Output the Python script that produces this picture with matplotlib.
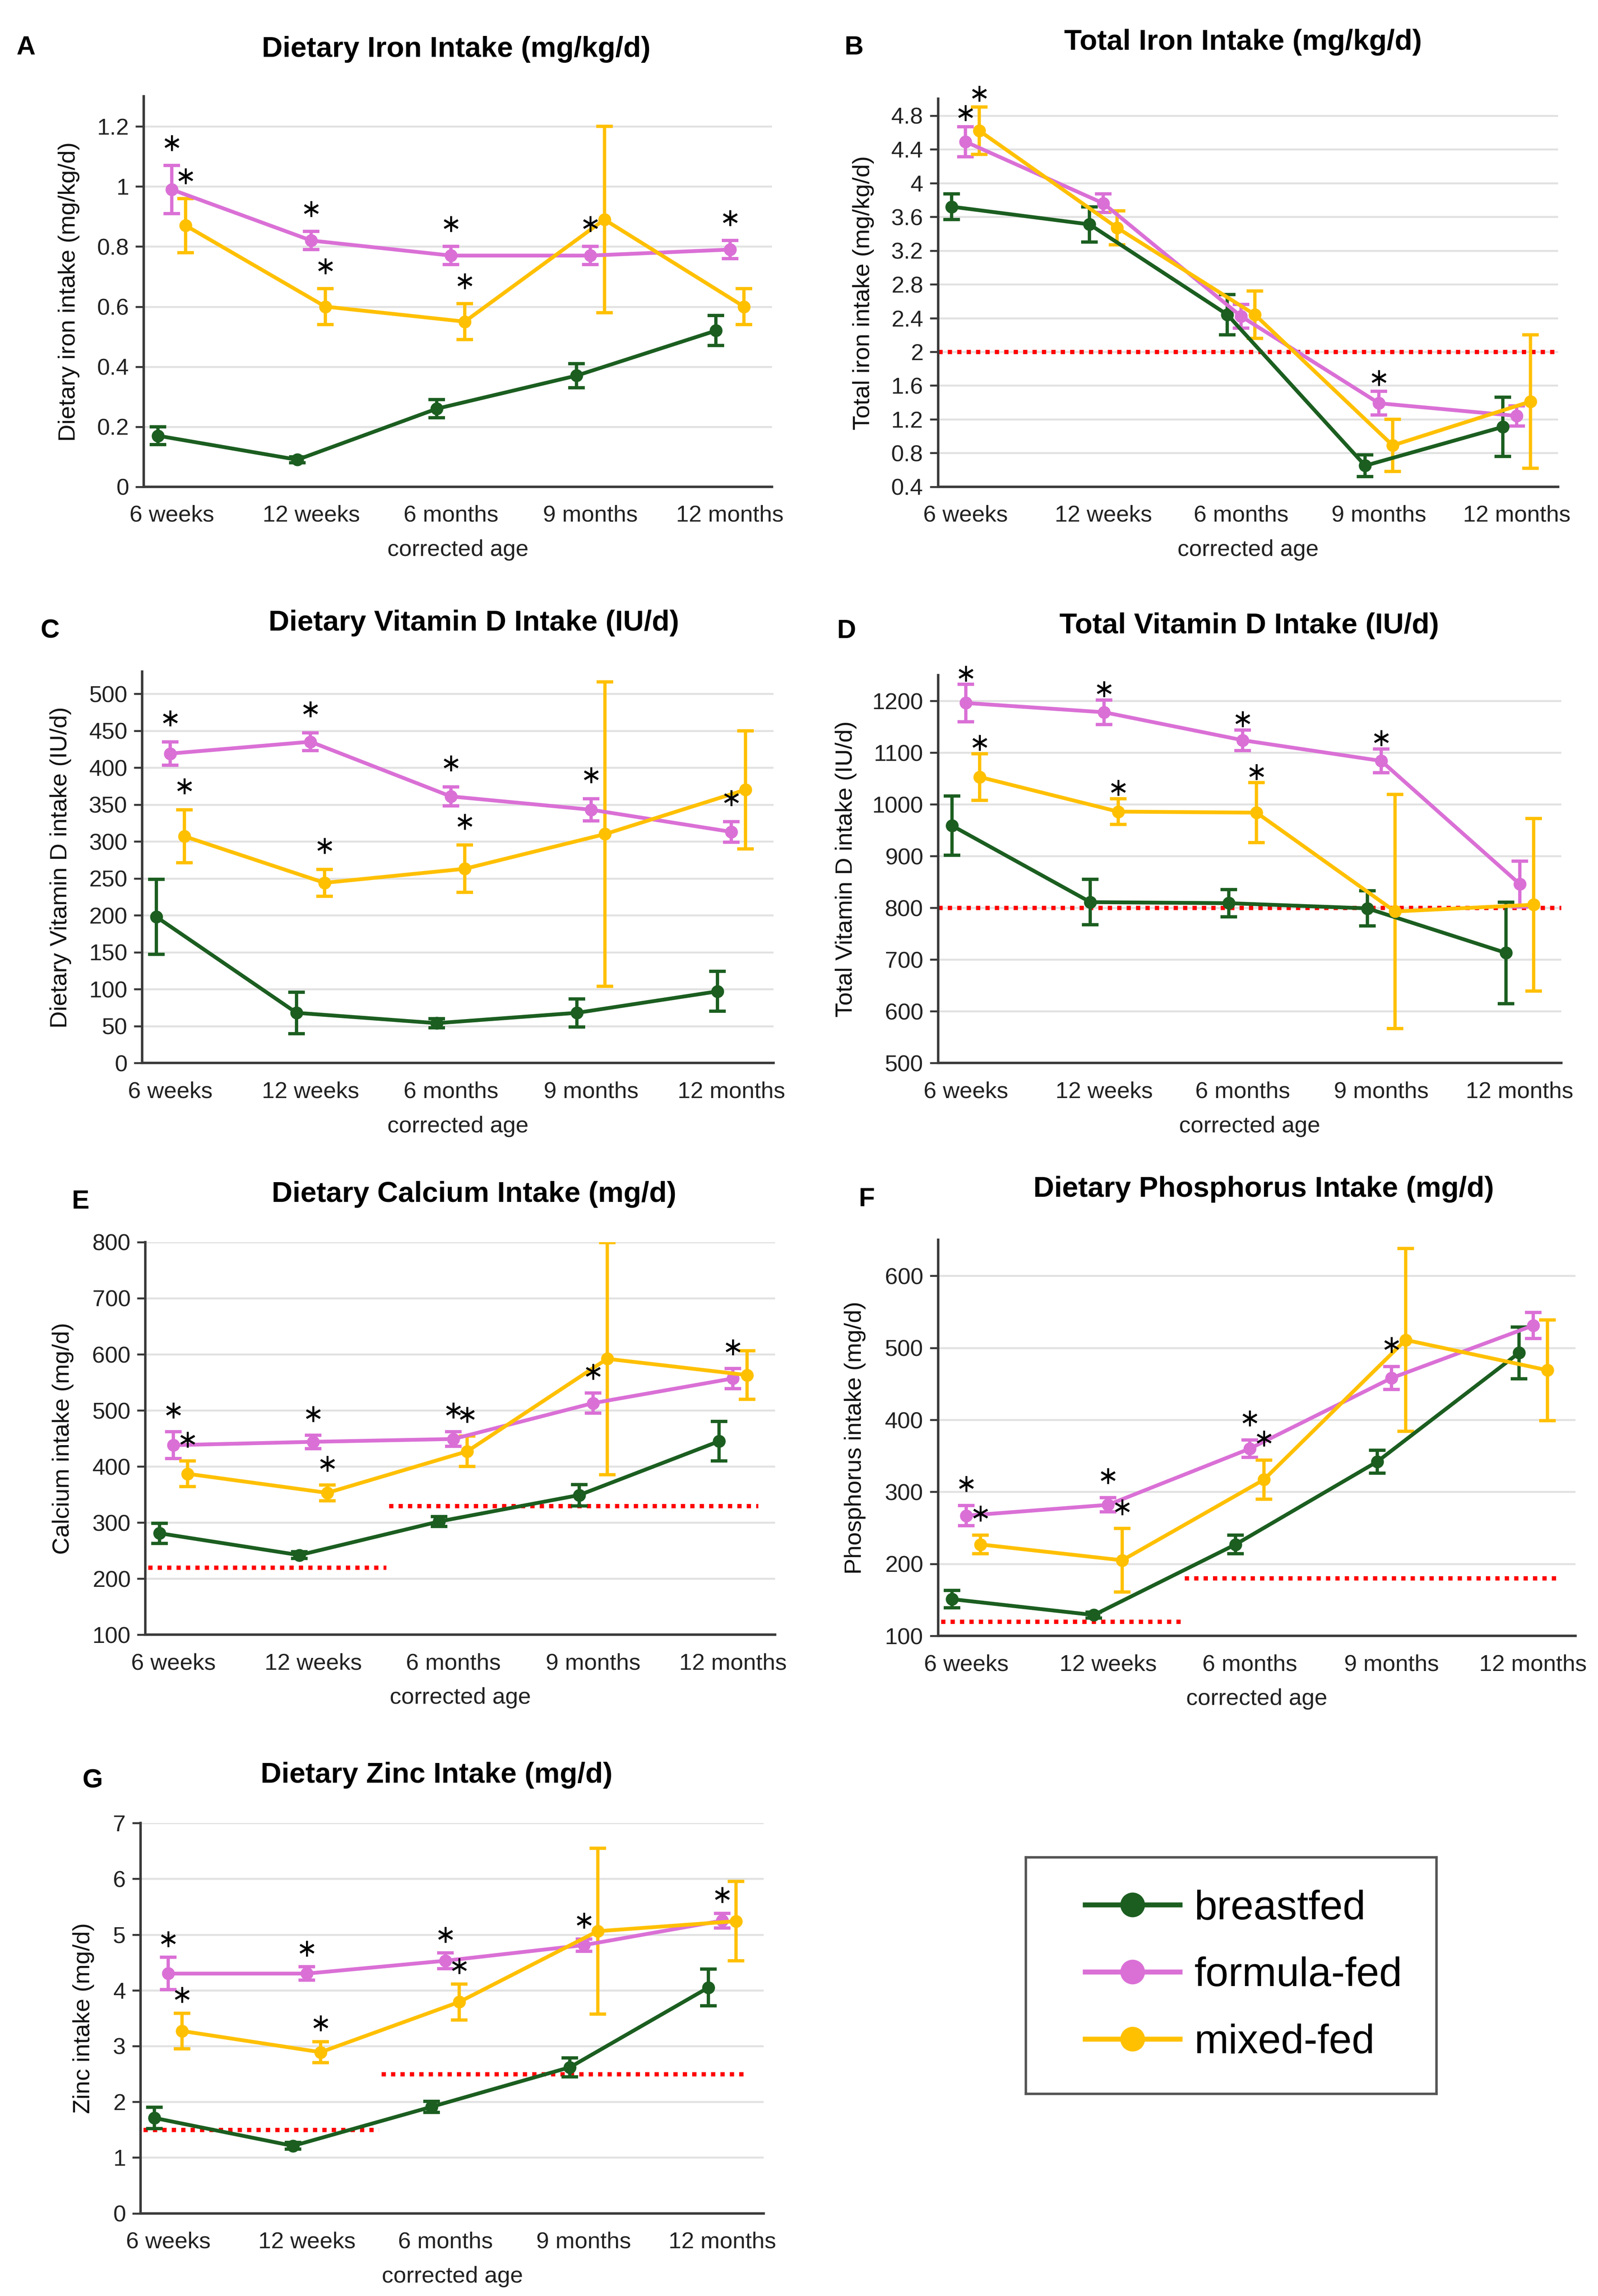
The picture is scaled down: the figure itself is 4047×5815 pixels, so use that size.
import matplotlib
matplotlib.use('Agg')
import matplotlib.pyplot as plt
from matplotlib.lines import Line2D
import numpy as np

plt.rcParams['font.family'] = ['Liberation Sans', 'DejaVu Sans']

# ---------------- data ----------------
ages = ['6 weeks', '12 weeks', '6 months', '9 months', '12 months']
groups = ['breastfed', 'formula-fed', 'mixed-fed']

# A: dietary iron (mg/kg/d)
A_bf = [0.17, 0.09, 0.26, 0.37, 0.52]
A_bf_err = [0.03, 0.01, 0.03, 0.04, 0.05]
A_ff = [0.99, 0.82, 0.77, 0.77, 0.79]
A_ff_err = [0.08, 0.03, 0.03, 0.03, 0.03]
A_mf = [0.87, 0.60, 0.55, 0.89, 0.60]
A_mf_err = [0.09, 0.06, 0.06, 0.31, 0.06]
A_ff_sig = [1, 1, 1, 1, 1]
A_mf_sig = [1, 1, 1, 0, 0]

# B: total iron (mg/kg/d)
B_bf = [3.72, 3.51, 2.44, 0.65, 1.11]
B_bf_err = [0.15, 0.21, 0.24, 0.13, 0.35]
B_ff = [4.49, 3.76, 2.42, 1.39, 1.24]
B_ff_err = [0.18, 0.11, 0.14, 0.14, 0.12]
B_mf = [4.62, 3.47, 2.44, 0.89, 1.41]
B_mf_err = [0.28, 0.20, 0.28, 0.31, 0.79]
B_ff_sig = [1, 0, 0, 1, 0]
B_mf_sig = [1, 0, 0, 0, 0]
B_ref = [2.0]

# C: dietary vitamin D (IU/d)
C_bf = [198, 68, 54, 68, 97]
C_bf_err = [51, 28, 6, 19, 27]
C_ff = [419, 435, 361, 343, 313]
C_ff_err = [16, 12, 13, 15, 14]
C_mf = [307, 244, 263, 310, 370]
C_mf_err = [36, 18, 32, 206, 80]
C_ff_sig = [1, 1, 1, 1, 1]
C_mf_sig = [1, 1, 1, 0, 0]

# D: total vitamin D (IU/d)
D_bf = [959, 811, 809, 799, 713]
D_bf_err = [57, 44, 26, 34, 98]
D_ff = [1196, 1178, 1124, 1084, 846]
D_ff_err = [36, 24, 20, 23, 44]
D_mf = [1053, 986, 984, 793, 806]
D_mf_err = [45, 25, 58, 226, 167]
D_ff_sig = [1, 1, 1, 1, 0]
D_mf_sig = [1, 1, 1, 0, 0]
D_ref = [800]

# E: dietary calcium (mg/d)
E_bf = [281, 242, 302, 349, 445]
E_bf_err = [18, 6, 9, 19, 35]
E_ff = [438, 444, 449, 513, 557]
E_ff_err = [24, 12, 13, 18, 18]
E_mf = [387, 353, 427, 592, 563]
E_mf_err = [23, 14, 27, 207, 43]
E_ff_sig = [1, 1, 1, 1, 1]
E_mf_sig = [1, 1, 1, 0, 0]
E_ref = [220, 330]

# F: dietary phosphorus (mg/d)
F_bf = [151, 129, 227, 342, 493]
F_bf_err = [12, 4, 13, 16, 36]
F_ff = [267, 282, 360, 458, 531]
F_ff_err = [14, 10, 12, 16, 18]
F_mf = [227, 205, 317, 511, 469]
F_mf_err = [13, 44, 27, 127, 70]
F_ff_sig = [1, 1, 1, 1, 0]
F_mf_sig = [1, 1, 1, 0, 0]
F_ref = [120, 180]

# G: dietary zinc (mg/d)
G_bf = [1.71, 1.21, 1.91, 2.62, 4.05]
G_bf_err = [0.19, 0.06, 0.10, 0.17, 0.33]
G_ff = [4.30, 4.30, 4.53, 4.81, 5.25]
G_ff_err = [0.29, 0.12, 0.14, 0.11, 0.13]
G_mf = [3.27, 2.89, 3.79, 5.06, 5.24]
G_mf_err = [0.32, 0.19, 0.32, 1.49, 0.71]
G_ff_sig = [1, 1, 1, 1, 1]
G_mf_sig = [1, 1, 1, 0, 0]
G_ref = [1.5, 2.5]

# ---------------- styling / layout ----------------
colors = ['#1b5e20', '#da70d6', '#ffc000']
offsets = [-0.1, 0.0, 0.1]

W, H = 4047, 5815
fig = plt.figure(figsize=(W / 300, H / 300), dpi=300)

panels = [
    dict(letter='A', title='Dietary Iron Intake (mg/kg/d)', ylabel='Dietary iron intake (mg/kg/d)',
         data=[(A_bf, A_bf_err), (A_ff, A_ff_err), (A_mf, A_mf_err)], sig=(A_ff_sig, A_mf_sig),
         rect=[0.090, 0.788, 0.393, 0.170], ylim=(0, 1.3), yticks=np.arange(0, 1.21, 0.2),
         star_off=0.075, ref=None, ref_full=False, ylab_x=-0.102,
         title_xy=(1155, 125), letter_xy=(65, 121)),
    dict(letter='B', title='Total Iron Intake (mg/kg/d)', ylabel='Total iron intake (mg/kg/d)',
         data=[(B_bf, B_bf_err), (B_ff, B_ff_err), (B_mf, B_mf_err)], sig=(B_ff_sig, B_mf_sig),
         rect=[0.587, 0.788, 0.388, 0.169], ylim=(0.4, 5.0), yticks=np.arange(0.4, 4.81, 0.4),
         star_off=0.16, ref=B_ref, ref_full=True, ylab_x=-0.103,
         title_xy=(3148, 107), letter_xy=(2163, 121)),
    dict(letter='C', title='Dietary Vitamin D Intake (IU/d)', ylabel='Dietary Vitamin D intake (IU/d)',
         data=[(C_bf, C_bf_err), (C_ff, C_ff_err), (C_mf, C_mf_err)], sig=(C_ff_sig, C_mf_sig),
         rect=[0.089, 0.537, 0.395, 0.1705], ylim=(0, 530), yticks=np.arange(0, 501, 50),
         star_off=32, ref=None, ref_full=False, ylab_x=-0.112,
         title_xy=(1200, 1578), letter_xy=(126, 1599)),
    dict(letter='D', title='Total Vitamin D Intake (IU/d)', ylabel='Total Vitamin D intake (IU/d)',
         data=[(D_bf, D_bf_err), (D_ff, D_ff_err), (D_mf, D_mf_err)], sig=(D_ff_sig, D_mf_sig),
         rect=[0.587, 0.537, 0.390, 0.169], ylim=(500, 1250), yticks=np.arange(500, 1201, 100),
         star_off=21, ref=D_ref, ref_full=True, ylab_x=-0.130,
         title_xy=(3164, 1585), letter_xy=(2144, 1599)),
    dict(letter='E', title='Dietary Calcium Intake (mg/d)', ylabel='Calcium intake (mg/d)',
         data=[(E_bf, E_bf_err), (E_ff, E_ff_err), (E_mf, E_mf_err)], sig=(E_ff_sig, E_mf_sig),
         rect=[0.091, 0.288, 0.394, 0.171], ylim=(100, 800), yticks=np.arange(100, 801, 100),
         star_off=38, ref=E_ref, ref_full=False, ylab_x=-0.114,
         title_xy=(1200, 3025), letter_xy=(204, 3044)),
    dict(letter='F', title='Dietary Phosphorus Intake (mg/d)', ylabel='Phosphorus intake (mg/d)',
         data=[(F_bf, F_bf_err), (F_ff, F_ff_err), (F_mf, F_mf_err)], sig=(F_ff_sig, F_mf_sig),
         rect=[0.587, 0.2875, 0.399, 0.1725], ylim=(100, 650), yticks=np.arange(100, 601, 100),
         star_off=30, ref=F_ref, ref_full=False, ylab_x=-0.113,
         title_xy=(3200, 3012), letter_xy=(2195, 3038)),
    dict(letter='G', title='Dietary Zinc Intake (mg/d)', ylabel='Zinc intake (mg/d)',
         data=[(G_bf, G_bf_err), (G_ff, G_ff_err), (G_mf, G_mf_err)], sig=(G_ff_sig, G_mf_sig),
         rect=[0.088, 0.036, 0.390, 0.170], ylim=(0, 7), yticks=np.arange(0, 7.01, 1),
         star_off=0.33, ref=G_ref, ref_full=False, ylab_x=-0.074,
         title_xy=(1106, 4496), letter_xy=(234, 4511)),
]

x = np.arange(len(ages))
ref_spans = [(-0.18, 1.52), (1.54, 4.18)]

for p in panels:
    ax = fig.add_axes(p['rect'])
    ax.set_xlim(-0.2, 4.3)
    ax.set_ylim(*p['ylim'])
    ax.set_yticks(p['yticks'])
    ax.set_yticklabels([f'{v:g}' for v in np.round(p['yticks'], 2)])
    ax.set_xticks(x)
    ax.set_xticklabels(ages)

    ax.yaxis.grid(True, color='#e2e2e2', lw=1.2)
    ax.set_axisbelow(True)
    for s in ['top', 'right']:
        ax.spines[s].set_visible(False)
    for s in ['left', 'bottom']:
        ax.spines[s].set_color('#3a3a3a')
        ax.spines[s].set_linewidth(1.5)
    ax.tick_params(axis='x', length=0, pad=11, labelsize=14, labelcolor='#222222')
    ax.tick_params(axis='y', length=5, width=1.2, color='#3a3a3a', pad=4,
                   labelsize=14, labelcolor='#222222')

    # reference lines (red dotted)
    if p['ref'] is not None:
        if p['ref_full']:
            for r in p['ref']:
                ax.axhline(r, color='#ff0000', ls=(0, (1, 1.2)), lw=2.6, zorder=1.5)
        else:
            for r, (x0, x1) in zip(p['ref'], ref_spans):
                ax.hlines(r, x0, x1, colors='#ff0000', linestyles=[(0, (1, 1.2))], lw=2.6, zorder=1.5)

    for (vals, errs), c, dx in zip(p['data'], colors, offsets):
        ax.errorbar(x + dx, vals, yerr=errs, color=c, marker='o', ms=6.8, lw=2.3,
                    elinewidth=2, capsize=5, capthick=2, zorder=3)

    # significance asterisks
    for (vals, errs), sig, dx in zip(p['data'][1:], p['sig'], offsets[1:]):
        sig = np.array(sig, dtype=bool)
        ys = np.array(vals) + np.array(errs) + p['star_off']
        ax.plot((x + dx)[sig], ys[sig], ls='none', marker=(6, 2, 0), ms=9.5,
                mew=1.2, color='black', zorder=4, clip_on=False)

    ax.set_ylabel(p['ylabel'], fontsize=14.5, color='#111111')
    ax.yaxis.set_label_coords(p['ylab_x'], 0.5)
    ax.set_xlabel('corrected age', fontsize=14, color='#222222', labelpad=8)

    tx, ty = p['title_xy']
    fig.text(tx / W, 1 - ty / H, p['title'], fontsize=17.5, fontweight='bold',
             ha='center', va='center')
    lx, ly = p['letter_xy']
    fig.text(lx / W, 1 - ly / H, p['letter'], fontsize=16, fontweight='bold',
             ha='center', va='center')

# legend box
lax = fig.add_axes([0.642, 0.088, 0.257, 0.103])
lax.set_xticks([])
lax.set_yticks([])
for s in lax.spines.values():
    s.set_color('#555555')
    s.set_linewidth(1.5)
handles = [Line2D([], [], color=c, lw=3, marker='o', ms=14) for c in colors]
lax.legend(handles, groups, loc='center', bbox_to_anchor=(0.53, 0.5), frameon=False,
           fontsize=25, handlelength=2.3, handletextpad=0.35, labelspacing=0.7)

fig.savefig('out.png', dpi=300)
